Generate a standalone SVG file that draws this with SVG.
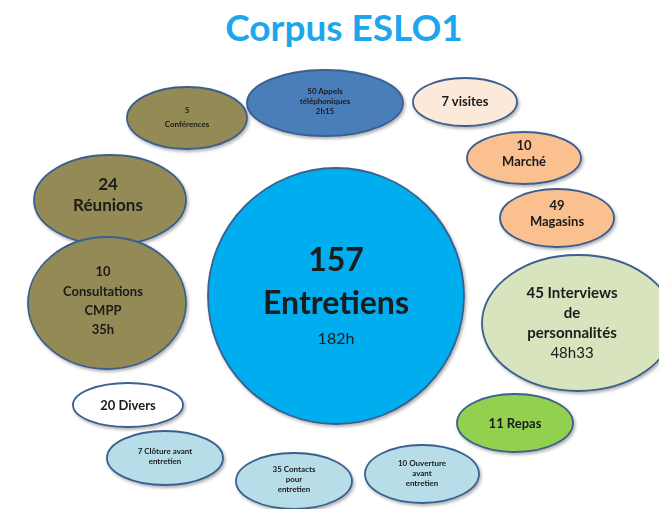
<svg xmlns="http://www.w3.org/2000/svg" width="659" height="509" viewBox="0 0 659 509">
<style>
text{font-family:Lato,"Liberation Sans",sans-serif;text-anchor:middle;fill:#1a1a1a;font-weight:bold}
ellipse{stroke:#3a5f8e;stroke-width:1.8}
.olive{fill:#948A54}
.peach{fill:#FAC090}
.lb{fill:#B7DEE8}
.t{font-size:8px}
.m{font-size:13px}
.l{font-size:17px}
</style>
<defs>
<filter id="sh" x="-10%" y="-10%" width="125%" height="125%">
<feDropShadow dx="1.5" dy="2" stdDeviation="1.5" flood-color="#000" flood-opacity="0.3"/>
</filter>
</defs>
<rect width="659" height="509" fill="#fff"/>
<text x="344" y="41" style="font-size:37px;fill:#1CA7EC">Corpus ESLO1</text>
<g id="connectors"/>
<g filter="url(#sh)">
<g id="n-entretiens">
<circle cx="336" cy="296" r="128" fill="#00AEEF" stroke="#3a5f8e" stroke-width="1.8"/>
<text x="336" y="271" style="font-size:32px">157</text>
<text x="336" y="314" style="font-size:32px">Entretiens</text>
<text x="336" y="344" style="font-size:16px;font-weight:normal">182h</text>
</g>
<g id="n-appels">
<ellipse cx="325" cy="103" rx="78" ry="33" fill="#4A7EBB"/>
<text class="t" x="325" y="94">50 Appels</text>
<text class="t" x="325" y="104">téléphoniques</text>
<text class="t" x="325" y="114">2h15</text>
</g>
<g id="n-conferences">
<ellipse class="olive" cx="187" cy="118" rx="60" ry="31"/>
<text class="t" x="187" y="113">5</text>
<text class="t" x="187" y="127">Conférences</text>
</g>
<g id="n-visites">
<ellipse cx="465" cy="102" rx="52" ry="24" fill="#FDE9D9"/>
<text class="m" x="465" y="106">7 visites</text>
</g>
<g id="n-marche">
<ellipse class="peach" cx="524" cy="158" rx="57" ry="26"/>
<text class="m" x="524" y="150">10</text>
<text class="m" x="524" y="166">Marché</text>
</g>
<g id="n-magasins">
<ellipse class="peach" cx="557" cy="218" rx="57" ry="29"/>
<text class="m" x="557" y="210">49</text>
<text class="m" x="557" y="226">Magasins</text>
</g>
<g id="n-reunions">
<ellipse class="olive" cx="110" cy="200" rx="76" ry="45"/>
<text class="l" x="108" y="190">24</text>
<text class="l" x="108" y="211">Réunions</text>
</g>
<g id="n-consultations">
<ellipse class="olive" cx="107" cy="303" rx="79" ry="66"/>
<text class="m" x="103" y="276">10</text>
<text class="m" x="103" y="296">Consultations</text>
<text class="m" x="103" y="315">CMPP</text>
<text class="m" x="103" y="334">35h</text>
</g>
<g id="n-interviews">
<ellipse cx="578" cy="323" rx="96" ry="68" fill="#D7E4BD"/>
<text x="572" y="298" style="font-size:15px">45 Interviews</text>
<text x="572" y="318" style="font-size:15px">de</text>
<text x="572" y="338" style="font-size:15px">personnalités</text>
<text x="572" y="358" style="font-size:15px;font-weight:normal">48h33</text>
</g>
<g id="n-repas">
<ellipse cx="515" cy="423" rx="58" ry="29" fill="#92D050"/>
<text class="m" x="515" y="428">11 Repas</text>
</g>
<g id="n-divers">
<ellipse cx="128" cy="405" rx="55" ry="22" fill="#fff"/>
<text class="m" x="128" y="410">20 Divers</text>
</g>
<g id="n-cloture">
<ellipse class="lb" cx="165" cy="458" rx="58" ry="27"/>
<text class="t" x="165" y="454">7 Clôture avant</text>
<text class="t" x="165" y="464">entretien</text>
</g>
<g id="n-contacts">
<ellipse class="lb" cx="294" cy="481" rx="58" ry="28"/>
<text class="t" x="294" y="472">35 Contacts</text>
<text class="t" x="294" y="482">pour</text>
<text class="t" x="294" y="492">entretien</text>
</g>
<g id="n-ouverture">
<ellipse class="lb" cx="422" cy="474" rx="57" ry="29"/>
<text class="t" x="422" y="466">10 Ouverture</text>
<text class="t" x="422" y="476">avant</text>
<text class="t" x="422" y="486">entretien</text>
</g>
</g>
</svg>
